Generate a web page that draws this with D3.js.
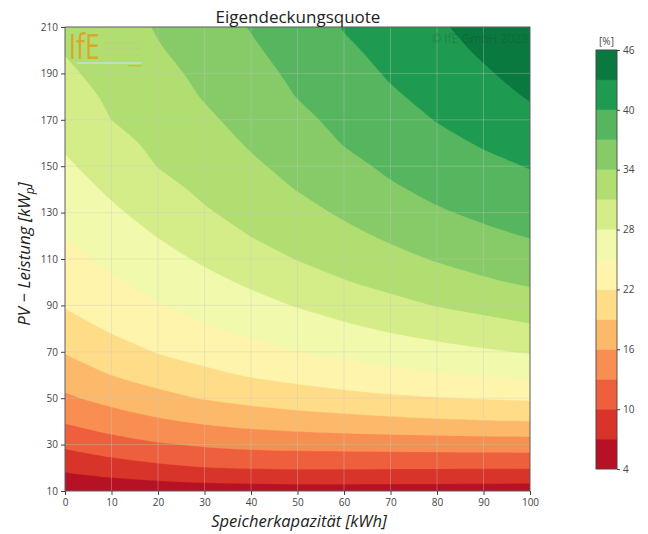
<!DOCTYPE html>
<html><head><meta charset="utf-8">
<script src="https://cdn.jsdelivr.net/npm/d3@7"></script>
<style>
body{margin:0;background:#fff;}
text{font-family:"Open Sans",sans-serif;}
</style></head>
<body><svg id="c" width="648" height="534"></svg>
<script>
// ---- data ----
const storage = [0,10,20,30,40,50,60,70,80,90,100];          // kWh
const pvPower = [10,20,30,40,50,60,70,80,90,100,110,120,130,140,150,160,170,180,190,200,210]; // kWp
// Eigendeckungsquote [%], one row per PV value (ascending), one column per storage value
const quote = [
 [4.6,4.88,5.17,5.43,5.55,5.62,5.64,5.62,5.58,5.54,5.5],
 [7.6,8.54,9.33,9.91,10.19,10.3,10.3,10.25,10.22,10.21,10.2],
 [10.55,11.78,12.71,13.34,13.79,14.0,14.1,14.2,14.3,14.38,14.44],
 [13.23,14.53,15.58,16.40,17.05,17.55,17.95,18.3,18.6,18.82,19.0],
 [15.54,16.90,18.11,19.17,19.92,20.55,21.08,21.53,21.88,22.15,22.39],
 [17.41,19.0,20.25,21.33,22.22,22.92,23.58,24.19,24.74,25.17,25.55],
 [19.16,20.76,22.15,23.09,24.05,25.0,25.71,26.38,27.04,27.65,28.23],
 [20.74,22.34,23.48,24.67,25.67,26.58,27.49,28.35,29.13,29.84,30.54],
 [22.19,23.47,24.81,25.97,27.06,28.15,29.18,30.19,31.10,31.82,32.55],
 [23.13,24.59,25.93,27.19,28.42,29.65,30.83,31.77,32.68,33.61,34.36],
 [24.06,25.61,27.02,28.40,29.75,31.10,32.08,33.16,34.21,35.05,35.78],
 [25.0,26.57,28.10,29.56,31.05,32.10,33.28,34.43,35.46,36.41,37.14],
 [25.86,27.53,29.10,30.72,31.89,33.10,34.37,35.53,36.70,37.52,38.13],
 [26.71,28.44,30.11,31.52,32.72,34.08,35.31,36.64,37.63,38.44,39.13],
 [27.57,29.30,31.06,32.20,33.56,34.83,36.24,37.49,38.47,39.36,40.12],
 [28.37,30.16,31.61,32.88,34.28,35.59,37.12,38.22,39.30,40.24,41.16],
 [29.10,31.01,32.16,33.56,34.86,36.35,37.74,38.95,40.10,41.03,42.20],
 [29.83,31.45,32.71,34.16,35.45,37.07,38.36,39.68,40.69,41.83,43.22],
 [30.56,31.89,33.25,34.60,36.04,37.58,38.98,40.25,41.29,42.63,44.15],
 [31.14,32.33,33.80,35.05,36.62,38.09,39.60,40.70,41.89,43.45,45.09],
 [31.48,32.77,34.21,35.49,37.14,38.59,40.12,41.14,42.49,44.31,45.90]
];
const levels = [4,7,10,13,16,19,22,25,28,31,34,37,40,43,46];
const xTicks = [0,10,20,30,40,50,60,70,80,90,100];
const yTicks = [10,30,50,70,90,110,130,150,170,190,210];
const cbTicks = [4,10,16,22,28,34,40,46];
const rdylgn = ["#a50026","#d73027","#f46d43","#fdae61","#fee08b","#ffffbf","#d9ef8b","#a6d96a","#66bd63","#1a9850","#006837"];

// ---- drawing ----
const svg = d3.select("#c");
const x = d3.scaleLinear([0,100],[65,530]);
const y = d3.scaleLinear([10,210],[491,27]);
const cmap = d3.scaleLinear(d3.range(11).map(i=>i/10), rdylgn).interpolate(d3.interpolateRgb);
const nb = levels.length-1;
const bandColor = i => cmap((i+0.5)/nb);

const n = storage.length, m = pvPower.length;
const flat = quote.flat();
const ds = storage[1]-storage[0], dp = pvPower[1]-pvPower[0];
const clamp = (v,a,b)=>Math.max(a,Math.min(b,v));
const X0 = x(storage[0]), X1 = x(storage[n-1]), Y0 = y(pvPower[m-1]), Y1 = y(pvPower[0]);
const toPx = ([gx,gy]) => [
  x(storage[0] + (clamp(gx,0.5,n-0.5)-0.5)*ds),
  y(pvPower[0] + (clamp(gy,0.5,m-0.5)-0.5)*dp)
];
const onB = p => Math.abs(p[0]-X0)<0.01 || Math.abs(p[0]-X1)<0.01 || Math.abs(p[1]-Y0)<0.01 || Math.abs(p[1]-Y1)<0.01;
const contours = d3.contours().size([n,m]).thresholds(levels.slice(0,-1))(flat);
const closedLine = d3.line().curve(d3.curveCatmullRomClosed.alpha(0.5));
const openLine = d3.line().curve(d3.curveCatmullRom.alpha(0.5));
const fmt = p => p[0].toFixed(2)+","+p[1].toFixed(2);
function ringPath(pts){
  const k = pts.findIndex(onB);
  if (k<0) return closedLine(pts);
  pts = pts.slice(k).concat(pts.slice(0,k));
  pts.push(pts[0]);
  let d = "M"+fmt(pts[0]);
  let i = 0;
  while (i < pts.length-1){
    if (onB(pts[i+1])) { d += "L"+fmt(pts[i+1]); i++; }
    else {
      let j = i+1; while (!onB(pts[j])) j++;
      d += openLine(pts.slice(i,j+1)).replace(/^M[^A-Z]*/,"");
      i = j;
    }
  }
  return d+"Z";
}
function contourPath(c){
  let s = "";
  c.coordinates.forEach(poly => poly.forEach(ring => {
    const pts = [];
    ring.slice(0,-1).map(toPx).forEach(p => {
      const q = pts[pts.length-1];
      if (!q || Math.abs(q[0]-p[0])>0.01 || Math.abs(q[1]-p[1])>0.01) pts.push(p);
    });
    if (pts.length>2 && Math.abs(pts[0][0]-pts[pts.length-1][0])<0.01 && Math.abs(pts[0][1]-pts[pts.length-1][1])<0.01) pts.pop();
    if (pts.length>2) s += ringPath(pts);
  }));
  return s;
}

svg.append("clipPath").attr("id","clip").append("rect")
  .attr("x",X0).attr("y",Y0).attr("width",X1-X0).attr("height",Y1-Y0);
const g = svg.append("g").attr("clip-path","url(#clip)");
g.append("rect").attr("x",X0).attr("y",Y0).attr("width",X1-X0).attr("height",Y1-Y0)
  .attr("fill",bandColor(0));
g.selectAll("path.band").data(contours).join("path").attr("class","band")
  .attr("d",contourPath).attr("fill-rule","evenodd")
  .attr("fill",(d,i)=>bandColor(i)).attr("stroke",(d,i)=>bandColor(i)).attr("stroke-width",0.3);

// grid
const grid = svg.append("g").attr("stroke","#c8c8c8").attr("stroke-opacity",0.45).attr("stroke-width",0.8);
grid.selectAll("line.gx").data(xTicks).join("line").attr("x1",d=>x(d)).attr("x2",d=>x(d)).attr("y1",Y0).attr("y2",Y1);
grid.selectAll("line.gy").data(yTicks).join("line").attr("y1",d=>y(d)).attr("y2",d=>y(d)).attr("x1",X0).attr("x2",X1);

// watermarks
const logo = svg.append("g").attr("opacity",0.8);
logo.append("text").attr("x",x(0.8)).attr("y",y(196)).attr("font-family","Liberation Serif, serif")
  .attr("font-size",34).attr("textLength",31).attr("lengthAdjust","spacingAndGlyphs")
  .attr("fill","#e39a1c").text("IfE");
logo.append("line").attr("x1",x(2.5)).attr("x2",x(16.5)).attr("y1",y(194.5)).attr("y2",y(194.5)).attr("stroke","#bfe3f0").attr("stroke-width",1.4);
[203,200.5,198].forEach(v=>logo.append("line").attr("x1",x(8.3)).attr("x2",x(16)).attr("y1",y(v)).attr("y2",y(v)).attr("stroke","#c9c48a").attr("stroke-width",0.7));
logo.append("line").attr("x1",x(13.5)).attr("x2",x(16.5)).attr("y1",y(193.3)).attr("y2",y(193.3)).attr("stroke","#e39a1c").attr("stroke-width",0.8);
svg.append("text").attr("x",X1-2).attr("y",y(203)).attr("text-anchor","end").attr("font-size",12)
  .attr("fill","#1d4d2c").attr("fill-opacity",0.35).text("© IfE GmbH 2023");

// frame + axes
svg.append("rect").attr("x",X0).attr("y",Y0).attr("width",X1-X0).attr("height",Y1-Y0)
  .attr("fill","none").attr("stroke","#444").attr("stroke-width",0.8);
const ax = svg.append("g").attr("transform",`translate(0,${Y1})`)
  .call(d3.axisBottom(x).tickValues(xTicks).tickSize(4).tickPadding(4));
const ay = svg.append("g").attr("transform",`translate(${X0},0)`)
  .call(d3.axisLeft(y).tickValues(yTicks).tickSize(4).tickPadding(3));
[ax,ay].forEach(a=>{a.select(".domain").remove();
  a.selectAll("text").attr("font-size",10).attr("fill","#444").attr("font-family","Open Sans, sans-serif");
  a.selectAll("line").attr("stroke","#444");});

svg.append("text").attr("x",298).attr("y",23).attr("text-anchor","middle").attr("font-size",17).attr("fill","#222").text("Eigendeckungsquote");
svg.append("text").attr("x",299).attr("y",527).attr("text-anchor","middle").attr("font-size",16.5).attr("font-style","italic").attr("fill","#222").text("Speicherkapazität [kWh]");
const yl = svg.append("text").attr("transform","translate(30,254) rotate(-90)").attr("text-anchor","middle")
  .attr("font-size",17).attr("font-style","italic").attr("fill","#222");
yl.append("tspan").text("PV − Leistung [kW");
yl.append("tspan").attr("font-size",12).attr("dy",4).text("p");
yl.append("tspan").attr("dy",-4).text("]");

// colorbar
const cb = d3.scaleLinear([4,46],[469,50]);
const cbx = 596, cbw = 21;
svg.selectAll("rect.cb").data(d3.range(nb)).join("rect").attr("class","cb")
  .attr("x",cbx).attr("width",cbw).attr("y",i=>cb(levels[i+1])).attr("height",i=>cb(levels[i])-cb(levels[i+1]))
  .attr("fill",bandColor).attr("stroke",bandColor).attr("stroke-width",0.3);
svg.append("rect").attr("x",cbx).attr("y",cb(46)).attr("width",cbw).attr("height",cb(4)-cb(46))
  .attr("fill","none").attr("stroke","#444").attr("stroke-width",0.8);
const acb = svg.append("g").attr("transform",`translate(${cbx+cbw},0)`)
  .call(d3.axisRight(cb).tickValues(cbTicks).tickSize(3).tickPadding(3));
acb.select(".domain").remove();
acb.selectAll("text").attr("font-size",10).attr("fill","#444").attr("font-family","Open Sans, sans-serif");
acb.selectAll("line").attr("stroke","#444");
svg.append("text").attr("x",cbx+cbw/2).attr("y",45).attr("text-anchor","middle").attr("font-size",10).attr("fill","#444").text("[%]");
</script></body></html>
